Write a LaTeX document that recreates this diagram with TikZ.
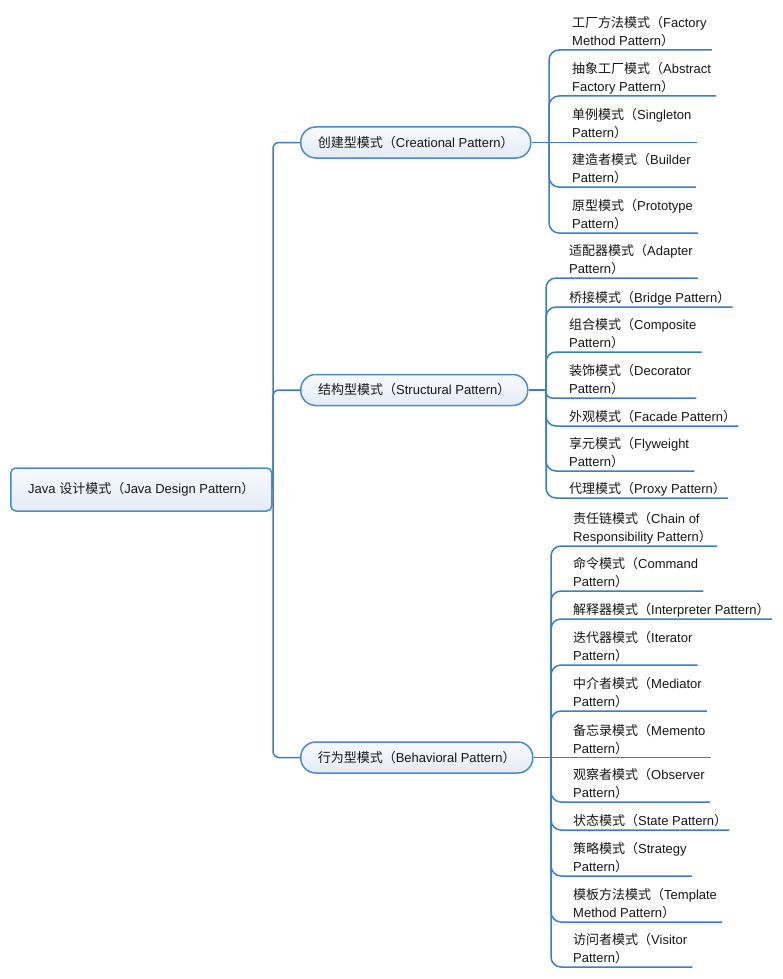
\documentclass[tikz,border=0pt]{standalone}
\usepackage{fontspec}
\setmainfont{Liberation Sans}
\newfontfamily\cjk{Noto Sans CJK SC}
\usetikzlibrary{calc}
\definecolor{ln}{HTML}{3A7EC4}
\definecolor{bd}{HTML}{4A8BCB}
\definecolor{ftop}{HTML}{F7FAFD}
\definecolor{fbot}{HTML}{E3EBF6}
\definecolor{tx}{HTML}{161616}
\newcommand\zh[1]{{\cjk #1}}
\newcommand\tl[1]{\begin{tabular}[b]{@{}l@{}}#1\end{tabular}}
\begin{document}
\begin{tikzpicture}[x=1pt,y=-1pt,
  conn/.style={draw=ln, line width=1.5pt},
  leaf/.style={anchor=base west, inner sep=0pt, text=tx, font=\fontsize{13}{18}\selectfont},
  lvone/.style={draw=bd, line width=1.5pt, rounded corners=15pt, top color=ftop, bottom color=fbot,
    minimum height=31pt, anchor=west, inner sep=0pt, text=tx, font=\fontsize{13}{18}\selectfont},
  rootbox/.style={draw=bd, line width=1.5pt, rounded corners=5pt, top color=ftop, bottom color=fbot,
    minimum height=43pt, minimum width=261pt, anchor=west, inner sep=0pt, text=tx, font=\fontsize{13}{18}\selectfont}]
\useasboundingbox[fill=white] (0,0) rectangle (783,979);

% root and level one
\node[rootbox] (root) at (10,489.5) {Java \zh{设计模式（}Java Design Pattern\zh{）}};
\node[lvone, minimum width=230pt] (cre) at (300,142.5) {\zh{创建型模式（}Creational Pattern\zh{）}};
\node[lvone, minimum width=227pt] (str) at (300,390) {\zh{结构型模式（}Structural Pattern\zh{）}};
\node[lvone, minimum width=232pt] (beh) at (300,757.5) {\zh{行为型模式（}Behavioral Pattern\zh{）}};

\coordinate (j0) at (273,489.5);
\coordinate (jc) at (549,142.5);
\coordinate (js) at (546,390);
\coordinate (jb) at (551,757.5);

% creational leaves
\node[leaf] (c1) at (572,45.5) {\tl{\zh{工厂方法模式（}Factory\\Method Pattern\zh{）}}};
\node[leaf] (c2) at (572,91.5) {\tl{\zh{抽象工厂模式（}Abstract\\Factory Pattern\zh{）}}};
\node[leaf] (c3) at (572,138) {\tl{\zh{单例模式（}Singleton\\Pattern\zh{）}}};
\node[leaf] (c4) at (572,182.5) {\tl{\zh{建造者模式（}Builder\\Pattern\zh{）}}};
\node[leaf] (c5) at (572,228.5) {\tl{\zh{原型模式（}Prototype\\Pattern\zh{）}}};

% structural leaves
\node[leaf] (s1) at (569,273.5) {\tl{\zh{适配器模式（}Adapter\\Pattern\zh{）}}};
\node[leaf] (s2) at (569,302.5) {\zh{桥接模式（}Bridge Pattern\zh{）}};
\node[leaf] (s3) at (569,347.5) {\tl{\zh{组合模式（}Composite\\Pattern\zh{）}}};
\node[leaf] (s4) at (569,393.5) {\tl{\zh{装饰模式（}Decorator\\Pattern\zh{）}}};
\node[leaf] (s5) at (569,421.5) {\zh{外观模式（}Facade Pattern\zh{）}};
\node[leaf] (s6) at (569,466.5) {\tl{\zh{享元模式（}Flyweight\\Pattern\zh{）}}};
\node[leaf] (s7) at (569,493.5) {\zh{代理模式（}Proxy Pattern\zh{）}};

% behavioral leaves
\node[leaf] (b1) at (573,541.5) {\tl{\zh{责任链模式（}Chain of\\Responsibility Pattern\zh{）}}};
\node[leaf] (b2) at (573,586.5) {\tl{\zh{命令模式（}Command\\Pattern\zh{）}}};
\node[leaf] (b3) at (573,614.5) {\zh{解释器模式（}Interpreter Pattern\zh{）}};
\node[leaf] (b4) at (573,660.5) {\tl{\zh{迭代器模式（}Iterator\\Pattern\zh{）}}};
\node[leaf] (b5) at (573,706.5) {\tl{\zh{中介者模式（}Mediator\\Pattern\zh{）}}};
\node[leaf] (b6) at (573,753) {\tl{\zh{备忘录模式（}Memento\\Pattern\zh{）}}};
\node[leaf] (b7) at (573,797.5) {\tl{\zh{观察者模式（}Observer\\Pattern\zh{）}}};
\node[leaf] (b8) at (573,825.5) {\zh{状态模式（}State Pattern\zh{）}};
\node[leaf] (b9) at (573,871.5) {\tl{\zh{策略模式（}Strategy\\Pattern\zh{）}}};
\node[leaf] (b10) at (573,917.5) {\tl{\zh{模板方法模式（}Template\\Method Pattern\zh{）}}};
\node[leaf] (b11) at (573,962.5) {\tl{\zh{访问者模式（}Visitor\\Pattern\zh{）}}};

% main connectors
\draw[conn] (root.east) -- (j0);
\draw[conn, rounded corners=6pt] (j0) |- (cre.west);
\draw[conn, rounded corners=6pt] (j0) |- (str.west);
\draw[conn, rounded corners=6pt] (j0) |- (beh.west);

% creational connectors
\draw[conn] (cre.east) -- (jc);
\foreach \n in {c1,c2,c4,c5}
  \draw[conn, rounded corners=10pt] (jc) |- ($(\n.base east)+(5,4.5)$);
\draw[conn] (jc) -- ($(c3.base east)+(5,4.5)$);

% structural connectors
\draw[conn] (str.east) -- (js);
\foreach \n in {s1,s3,s6}
  \draw[conn, rounded corners=10pt] (js) |- ($(\n.base east)+(5,4.5)$);
\foreach \n in {s2,s5,s7}
  \draw[conn, rounded corners=10pt] (js) |- ($(\n.base east)+(2,4.5)$);
\draw[conn, rounded corners=6pt] (js) |- ($(s4.base east)+(5,4.5)$);

% behavioral connectors
\draw[conn] (beh.east) -- (jb);
\foreach \n in {b1,b2,b4,b5,b7,b9,b10,b11}
  \draw[conn, rounded corners=10pt] (jb) |- ($(\n.base east)+(5,4.5)$);
\foreach \n in {b3,b8}
  \draw[conn, rounded corners=10pt] (jb) |- ($(\n.base east)+(2,4.5)$);
\draw[conn] (jb) -- ($(b6.base east)+(5,4.5)$);
\end{tikzpicture}
\end{document}
